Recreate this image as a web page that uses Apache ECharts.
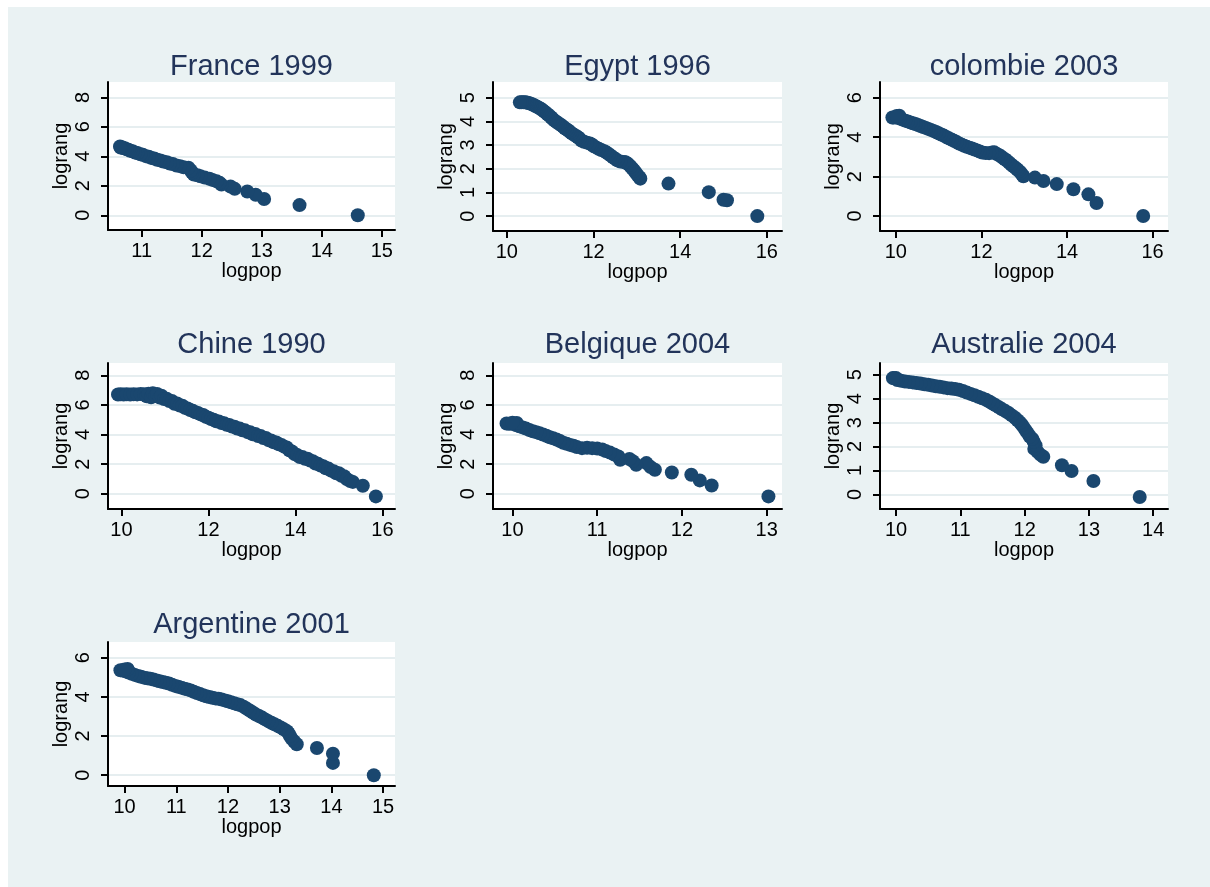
<!DOCTYPE html>
<html>
<head>
<meta charset="utf-8">
<script src="https://cdn.jsdelivr.net/npm/echarts@6/dist/echarts.min.js"></script>
<style>
  html, body { margin: 0; padding: 0; background: #ffffff; }
  #chart { position: absolute; left: 8px; top: 7px; width: 1202px; height: 880px; }
</style>
</head>
<body>
<div id="chart"></div>
<script>
// ---------------- DATA ----------------
const panelTitles = ['France 1999', 'Egypt 1996', 'colombie 2003', 'Chine 1990', 'Belgique 2004', 'Australie 2004', 'Argentine 2001'];
const xAxisTitle = 'logpop';
const yAxisTitle = 'lograng';

// France 1999
const franceX = [14.60, 13.63, 13.04, 12.90, 12.76, 12.55, 12.48, 12.33, 12.30, 12.25, 12.18, 12.13, 12.05, 11.98, 11.93, 11.87, 11.84, 11.82, 11.78, 11.70, 11.64, 11.58, 11.52, 11.47, 11.42, 11.36, 11.31, 11.26, 11.21, 11.16, 11.12, 11.07, 11.02, 10.98, 10.93, 10.89, 10.85, 10.81, 10.78, 10.75, 10.72, 10.69, 10.67, 10.65, 10.64];
const franceY = [0.00, 0.69, 1.10, 1.39, 1.61, 1.79, 1.95, 2.08, 2.20, 2.30, 2.40, 2.48, 2.56, 2.64, 2.71, 2.77, 2.89, 3.04, 3.22, 3.26, 3.33, 3.38, 3.47, 3.51, 3.60, 3.64, 3.72, 3.76, 3.85, 3.89, 3.97, 4.01, 4.10, 4.14, 4.22, 4.26, 4.34, 4.38, 4.45, 4.48, 4.54, 4.56, 4.62, 4.60, 4.66];
const franceXTicks = [11, 12, 13, 14, 15];
const franceYTicks = [0, 2, 4, 6, 8];

// Egypt 1996
const egyptX = [15.78, 15.08, 15.00, 14.66, 13.73, 13.08, 13.06, 13.02, 12.98, 12.94, 12.90, 12.86, 12.82, 12.78, 12.74, 12.70, 12.62, 12.55, 12.50, 12.45, 12.40, 12.35, 12.30, 12.25, 12.18, 12.12, 12.06, 12.00, 11.96, 11.92, 11.85, 11.78, 11.72, 11.68, 11.64, 11.60, 11.55, 11.50, 11.46, 11.42, 11.38, 11.34, 11.30, 11.26, 11.22, 11.18, 11.14, 11.10, 11.06, 11.02, 10.98, 10.94, 10.90, 10.86, 10.82, 10.78, 10.74, 10.70, 10.66, 10.62, 10.58, 10.54, 10.50, 10.46, 10.42, 10.38, 10.34, 10.30];
const egyptY = [0.00, 0.67, 0.69, 1.01, 1.37, 1.58, 1.64, 1.72, 1.82, 1.92, 2.00, 2.08, 2.16, 2.22, 2.27, 2.28, 2.30, 2.35, 2.42, 2.48, 2.55, 2.62, 2.68, 2.74, 2.79, 2.84, 2.90, 2.96, 3.02, 3.06, 3.10, 3.14, 3.19, 3.27, 3.33, 3.38, 3.43, 3.49, 3.55, 3.61, 3.66, 3.71, 3.77, 3.83, 3.88, 3.93, 3.98, 4.03, 4.10, 4.17, 4.24, 4.30, 4.36, 4.42, 4.48, 4.53, 4.57, 4.61, 4.65, 4.69, 4.72, 4.75, 4.77, 4.79, 4.80, 4.81, 4.81, 4.80];
const egyptXTicks = [10, 12, 14, 16];
const egyptYTicks = [0, 1, 2, 3, 4, 5];

// colombie 2003
const colombieX = [15.78, 14.69, 14.50, 14.15, 13.76, 13.45, 13.25, 12.98, 12.95, 12.92, 12.88, 12.84, 12.80, 12.75, 12.70, 12.65, 12.60, 12.55, 12.50, 12.45, 12.40, 12.35, 12.30, 12.25, 12.18, 12.10, 12.02, 11.96, 11.90, 11.84, 11.78, 11.72, 11.66, 11.60, 11.54, 11.48, 11.42, 11.36, 11.30, 11.24, 11.18, 11.12, 11.06, 11.00, 10.94, 10.88, 10.82, 10.76, 10.70, 10.64, 10.58, 10.52, 10.46, 10.40, 10.34, 10.28, 10.22, 10.16, 10.10, 10.05, 10.00, 9.95, 9.92, 10.08, 10.02];
const colombieY = [0.00, 0.66, 1.10, 1.36, 1.62, 1.78, 1.95, 2.02, 2.10, 2.20, 2.28, 2.36, 2.44, 2.52, 2.60, 2.70, 2.80, 2.88, 2.95, 3.04, 3.10, 3.16, 3.23, 3.22, 3.19, 3.20, 3.22, 3.27, 3.33, 3.37, 3.42, 3.47, 3.51, 3.56, 3.62, 3.68, 3.75, 3.82, 3.88, 3.94, 4.01, 4.08, 4.14, 4.20, 4.26, 4.32, 4.37, 4.42, 4.47, 4.52, 4.57, 4.62, 4.67, 4.71, 4.75, 4.80, 4.84, 4.89, 4.94, 4.98, 5.01, 5.00, 5.00, 5.09, 5.07];
const colombieXTicks = [10, 12, 14, 16];
const colombieYTicks = [0, 2, 4, 6];

// Chine 1990
const chineX = [9.92, 9.98, 10.05, 10.12, 10.20, 10.28, 10.36, 10.44, 10.52, 10.58, 10.62, 10.68, 10.72, 10.78, 10.82, 10.88, 10.92, 10.98, 11.04, 11.10, 11.16, 11.22, 11.28, 11.34, 11.40, 11.46, 11.52, 11.58, 11.64, 11.70, 11.76, 11.82, 11.88, 11.94, 12.00, 12.06, 12.12, 12.18, 12.24, 12.30, 12.36, 12.42, 12.48, 12.54, 12.60, 12.66, 12.72, 12.78, 12.84, 12.90, 12.96, 13.02, 13.08, 13.14, 13.20, 13.26, 13.32, 13.38, 13.44, 13.50, 13.56, 13.62, 13.68, 13.74, 13.80, 13.86, 13.92, 13.98, 14.04, 14.10, 14.16, 14.22, 14.28, 14.34, 14.40, 14.46, 14.52, 14.58, 14.64, 14.70, 14.76, 14.82, 14.88, 14.94, 15.00, 15.06, 15.12, 15.18, 15.26, 15.32, 15.55, 15.85];
const chineY = [6.70, 6.72, 6.70, 6.72, 6.70, 6.72, 6.71, 6.73, 6.72, 6.58, 6.76, 6.52, 6.78, 6.60, 6.74, 6.50, 6.62, 6.40, 6.42, 6.26, 6.26, 6.08, 6.10, 5.96, 5.94, 5.80, 5.76, 5.66, 5.60, 5.50, 5.46, 5.36, 5.32, 5.20, 5.14, 5.04, 5.00, 4.90, 4.88, 4.78, 4.76, 4.66, 4.64, 4.54, 4.52, 4.40, 4.40, 4.28, 4.28, 4.16, 4.16, 4.02, 4.04, 3.90, 3.90, 3.76, 3.76, 3.62, 3.60, 3.48, 3.46, 3.34, 3.30, 3.18, 3.12, 2.94, 2.86, 2.68, 2.62, 2.48, 2.48, 2.36, 2.36, 2.24, 2.20, 2.04, 2.02, 1.90, 1.86, 1.72, 1.70, 1.56, 1.52, 1.38, 1.38, 1.22, 1.18, 1.00, 0.86, 0.80, 0.54, -0.18];
const chineXTicks = [10, 12, 14, 16];
const chineYTicks = [0, 2, 4, 6, 8];

// Belgique 2004
const belgiqueX = [13.02, 12.35, 12.21, 12.11, 11.88, 11.68, 11.63, 11.58, 11.46, 11.42, 11.38, 11.27, 11.25, 11.20, 11.15, 11.10, 11.06, 11.00, 10.94, 10.88, 10.82, 10.76, 10.72, 10.68, 10.64, 10.60, 10.56, 10.52, 10.48, 10.44, 10.40, 10.36, 10.32, 10.28, 10.24, 10.20, 10.16, 10.12, 10.08, 10.04, 10.00, 9.96, 9.93, 10.05, 10.00];
const belgiqueY = [-0.18, 0.56, 0.90, 1.28, 1.44, 1.62, 1.80, 2.07, 1.96, 2.20, 2.35, 2.30, 2.52, 2.65, 2.78, 2.88, 2.98, 3.05, 3.08, 3.10, 3.08, 3.15, 3.24, 3.30, 3.38, 3.44, 3.56, 3.66, 3.74, 3.82, 3.92, 4.00, 4.08, 4.16, 4.22, 4.30, 4.40, 4.48, 4.56, 4.64, 4.72, 4.72, 4.74, 4.78, 4.80];
const belgiqueXTicks = [10, 11, 12, 13];
const belgiqueYTicks = [0, 2, 4, 6, 8];

// Australie 2004
const australieX = [13.79, 13.07, 12.73, 12.58, 12.29, 12.25, 12.20, 12.15, 12.17, 12.14, 12.12, 12.08, 12.05, 12.02, 11.99, 11.96, 11.93, 11.89, 11.85, 11.80, 11.75, 11.70, 11.65, 11.60, 11.55, 11.50, 11.45, 11.40, 11.34, 11.28, 11.22, 11.16, 11.10, 11.04, 10.98, 10.92, 10.86, 10.80, 10.74, 10.68, 10.62, 10.56, 10.50, 10.44, 10.38, 10.32, 10.26, 10.20, 10.14, 10.08, 10.02, 9.97, 10.00, 9.95];
const australieY = [-0.11, 0.56, 0.98, 1.22, 1.57, 1.65, 1.78, 1.90, 2.05, 2.20, 2.32, 2.42, 2.55, 2.66, 2.78, 2.90, 3.00, 3.10, 3.20, 3.30, 3.40, 3.48, 3.56, 3.64, 3.72, 3.80, 3.88, 3.95, 4.02, 4.08, 4.14, 4.20, 4.26, 4.32, 4.37, 4.40, 4.42, 4.44, 4.47, 4.50, 4.52, 4.55, 4.58, 4.60, 4.63, 4.65, 4.68, 4.70, 4.72, 4.75, 4.78, 4.85, 4.86, 4.86];
const australieXTicks = [10, 11, 12, 13, 14];
const australieYTicks = [0, 1, 2, 3, 4, 5];

// Argentine 2001
const argentineX = [14.82, 14.03, 14.03, 13.72, 13.33, 13.28, 13.23, 13.20, 13.17, 13.14, 13.08, 13.02, 12.96, 12.90, 12.84, 12.78, 12.72, 12.66, 12.60, 12.54, 12.48, 12.42, 12.36, 12.30, 12.24, 12.18, 12.12, 12.06, 12.00, 11.94, 11.88, 11.82, 11.76, 11.70, 11.64, 11.58, 11.52, 11.46, 11.40, 11.34, 11.28, 11.22, 11.16, 11.10, 11.04, 10.98, 10.92, 10.86, 10.80, 10.74, 10.68, 10.62, 10.56, 10.50, 10.44, 10.38, 10.32, 10.26, 10.20, 10.14, 10.08, 10.02, 9.96, 9.92, 10.06, 10.00];
const argentineY = [0.00, 0.63, 1.10, 1.39, 1.58, 1.72, 1.87, 2.00, 2.15, 2.25, 2.35, 2.44, 2.52, 2.60, 2.68, 2.76, 2.85, 2.94, 3.02, 3.10, 3.20, 3.30, 3.40, 3.50, 3.58, 3.62, 3.67, 3.72, 3.77, 3.82, 3.86, 3.90, 3.92, 3.95, 3.99, 4.03, 4.08, 4.14, 4.20, 4.26, 4.33, 4.38, 4.42, 4.47, 4.51, 4.56, 4.62, 4.68, 4.72, 4.76, 4.80, 4.84, 4.88, 4.92, 4.95, 4.98, 5.02, 5.07, 5.12, 5.18, 5.24, 5.30, 5.34, 5.36, 5.42, 5.40];
const argentineXTicks = [10, 11, 12, 13, 14, 15];
const argentineYTicks = [0, 2, 4, 6];

// ---------------- LAYOUT / STYLE ----------------
const OX = 8, OY = 7; // chart container offset on the page
const FONT = '"Liberation Sans", Arial, Helvetica, sans-serif';
const NAVY = '#1A476F';
const TITLE_COLOR = '#22345A';
const GRIDLINE = '#E6EEF0';

const panels = [
  { title: panelTitles[0], x: franceX, y: franceY, xt: franceXTicks, yt: franceYTicks, box: [108, 82, 287, 148], xr: [10.44, 15.22], yr: [-1.0, 9.04], titleTop: 51.5 },
  { title: panelTitles[1], x: egyptX, y: egyptY, xt: egyptXTicks, yt: egyptYTicks, box: [493, 82, 289, 149], xr: [9.68, 16.35], yr: [-0.63, 5.66], titleTop: 51.5 },
  { title: panelTitles[2], x: colombieX, y: colombieY, xt: colombieXTicks, yt: colombieYTicks, box: [880, 82, 288, 149], xr: [9.63, 16.36], yr: [-0.76, 6.8], titleTop: 51.5 },
  { title: panelTitles[3], x: chineX, y: chineY, xt: chineXTicks, yt: chineYTicks, box: [108, 363, 287, 146], xr: [9.69, 16.29], yr: [-1.03, 8.83], titleTop: 329.5 },
  { title: panelTitles[4], x: belgiqueX, y: belgiqueY, xt: belgiqueXTicks, yt: belgiqueYTicks, box: [493, 363, 289, 146], xr: [9.77, 13.18], yr: [-1.03, 8.83], titleTop: 329.5 },
  { title: panelTitles[5], x: australieX, y: australieY, xt: australieXTicks, yt: australieYTicks, box: [880, 363, 288, 146], xr: [9.75, 14.23], yr: [-0.61, 5.49], titleTop: 329.5 },
  { title: panelTitles[6], x: argentineX, y: argentineY, xt: argentineXTicks, yt: argentineYTicks, box: [108, 642, 287, 144], xr: [9.68, 15.23], yr: [-0.55, 6.8], titleTop: 609.5 }
];

const option = {
  backgroundColor: '#EAF2F3',
  animation: false,
  title: [], grid: [], xAxis: [], yAxis: [], series: []
};

panels.forEach((p, i) => {
  const [l, t, w, h] = p.box;
  option.title.push({
    text: p.title,
    left: l + w / 2 - OX,
    top: p.titleTop + 0.5 - OY,
    textAlign: 'center',
    padding: 0,
    textStyle: { fontFamily: FONT, fontSize: 29, fontWeight: 'normal', color: TITLE_COLOR }
  });
  option.grid.push({
    left: l - OX, top: t - OY, width: w, height: h,
    show: true, backgroundColor: '#ffffff', borderWidth: 0, containLabel: false
  });
  option.xAxis.push({
    gridIndex: i, type: 'value', min: p.xr[0], max: p.xr[1],
    axisLine: { show: true, onZero: false, lineStyle: { color: '#000', width: 2 } },
    axisTick: { show: true, length: 7, lineStyle: { color: '#000', width: 2 }, customValues: p.xt },
    axisLabel: { customValues: p.xt, margin: 11, fontSize: 20, color: '#000', fontFamily: FONT },
    splitLine: { show: false },
    name: xAxisTitle, nameLocation: 'middle', nameGap: 28,
    nameTextStyle: { fontFamily: FONT, fontSize: 20, color: '#000' }
  });
  option.yAxis.push({
    gridIndex: i, type: 'value', min: p.yr[0], max: p.yr[1],
    axisLine: { show: true, onZero: false, lineStyle: { color: '#000', width: 2 } },
    axisTick: { show: true, length: 7, lineStyle: { color: '#000', width: 2 }, customValues: p.yt },
    axisLabel: { customValues: p.yt, margin: 15, fontSize: 20, rotate: 90, color: '#000', fontFamily: FONT },
    splitLine: { show: true, lineStyle: { color: GRIDLINE, width: 2 } },
    name: yAxisTitle, nameLocation: 'middle', nameGap: 37, nameRotate: 90,
    nameTextStyle: { fontFamily: FONT, fontSize: 20, color: '#000' }
  });
  option.series.push({
    type: 'scatter', xAxisIndex: i, yAxisIndex: i,
    symbol: 'circle', symbolSize: 14,
    itemStyle: { color: NAVY, opacity: 1 },
    silent: true,
    data: p.x.map((v, k) => [v, p.y[k]])
  });
});

const chart = echarts.init(document.getElementById('chart'), null, { renderer: 'canvas' });
chart.setOption(option);
</script>
</body>
</html>
